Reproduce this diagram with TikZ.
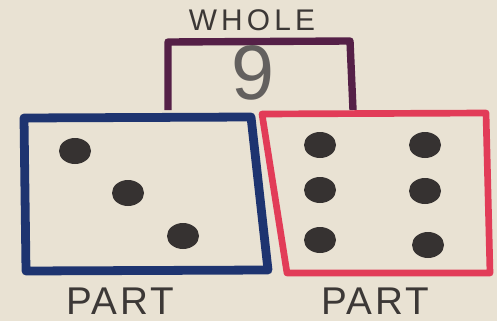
\documentclass[tikz,border=0pt]{standalone}
\usepackage{fontspec}
\setmainfont{Liberation Sans}
\definecolor{paper}{HTML}{E9E2D3}
\definecolor{navy}{HTML}{1E3470}
\definecolor{rosered}{HTML}{E23C58}
\definecolor{plum}{HTML}{552047}
\definecolor{ink}{HTML}{3C3836}

\begin{document}
\begin{tikzpicture}[x=0.02cm,y=-0.02cm,line join=round,
  lbl/.style={text=ink,anchor=base,inner sep=0pt,font=\fontsize{22}{22}\selectfont\addfontfeature{LetterSpace=7}},
  dot/.style={fill=ink!90!black}]
\fill[paper] (0,0) rectangle (497,321);
\useasboundingbox (0,0) rectangle (497,321);
% whole
\draw[plum,line width=4.2pt] (168,110) -- (168,42) -- (350,41) -- (353,110);
\node[lbl,font=\fontsize{17}{17}\selectfont\addfontfeature{LetterSpace=14}] (whole) at (252,31) {WHOLE};
\node[lbl,text=ink!80,font=\fontsize{44}{44}\selectfont] (nine) at (253,99) {9};
% parts
\draw[navy,line width=5pt] (24,118) -- (251,117) -- (268,270) -- (26,271) -- cycle;
\draw[rosered,line width=3.8pt] (262,114) -- (486,113) -- (490,273) -- (287,273) -- cycle;
\foreach \p in {(75,151),(128,193),(183,236)}
  \fill[dot] \p ellipse (16 and 13);
\foreach \p in {(320,145),(425,145),(320,190),(425,191),(320,240),(428,245)}
  \fill[dot] \p ellipse (16 and 13);
\node[lbl] (lpart) at (120,314) {PART};
\node[lbl] (rpart) at (375,314) {PART};
\end{tikzpicture}
\end{document}
